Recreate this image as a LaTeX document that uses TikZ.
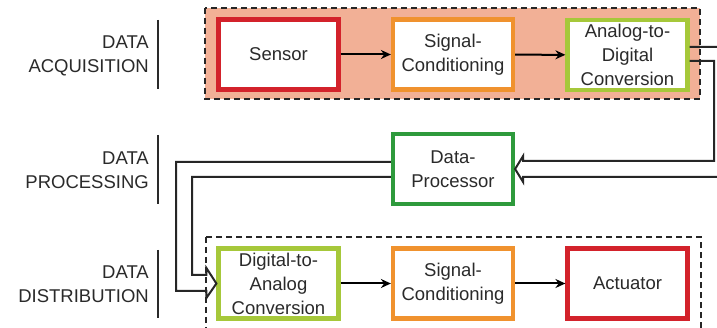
\documentclass[tikz,border=0pt]{standalone}
\usepackage{fontspec}
\setmainfont{Liberation Sans}
\usetikzlibrary{arrows.meta,calc}
\definecolor{peach}{HTML}{F2B096}
\definecolor{bred}{HTML}{D3222B}
\definecolor{borange}{HTML}{F0922E}
\definecolor{blime}{HTML}{A6C83A}
\definecolor{bgreen}{HTML}{2E9A3C}
\definecolor{txt}{HTML}{2A2A2A}
\tikzset{
  blk/.style={draw, line width=4.2pt, fill=white, minimum width=#1, minimum height=70pt,
    align=center, inner sep=0pt, text=txt, font=\fontsize{18.5}{24}\selectfont},
  blk/.default=120pt,
  lbl/.style={anchor=east, align=right, text=txt, inner sep=0pt, font=\fontsize{18.5}{24}\selectfont},
  sep/.style={line width=1.8pt, draw=txt},
  group/.style={dashed, dash pattern=on 6pt off 4pt, line width=2.2pt, draw=black!85},
  conn/.style={line width=2pt, -{Stealth[length=10pt,width=9pt]}},
  pipe/.style={line width=2pt, draw=black!85, line join=miter}
}
\begin{document}
\begin{tikzpicture}[x=1pt,y=-1pt]
\useasboundingbox (0,0) rectangle (717,328);
\clip (0,0) rectangle (717,328);
\fill[white] (0,0) rectangle (717,328);
% group boxes
\path[group, fill=peach] (205,8) rectangle (700,99);
\path[group] (206,237) rectangle (701,345);
% blocks
\node[blk, draw=bred] (sensor) at (278.5,54.5) {Sensor};
\node[blk, draw=borange] (sc1) at (453,54.5) {Signal-\\Conditioning};
\node[blk, draw=blime] (adc) at (627.5,55) {Analog-to-\\Digital\\Conversion};
\node[blk, draw=bgreen] (proc) at (453,169) {Data-\\Processor};
\node[blk, draw=blime] (dac) at (278.5,283.5) {Digital-to-\\Analog\\Conversion};
\node[blk, draw=borange] (sc2) at (453,283.5) {Signal-\\Conditioning};
\node[blk, draw=bred] (act) at (627.5,283.5) {Actuator};
% labels
\node[lbl] (lacq) at (149,56) {DATA\\ACQUISITION};
\node[lbl] (lproc) at (149,170) {DATA\\PROCESSING};
\node[lbl] (ldist) at (149,284) {DATA\\DISTRIBUTION};
\draw[sep] (158,20) -- (158,89);
\draw[sep] (158,135) -- (158,204);
\draw[sep] (158,250) -- (158,318);
% connectors
\draw[conn] (sensor) -- (sc1);
\draw[conn] (sc1) -- (adc);
\draw[conn] (dac) -- (sc2);
\draw[conn] (sc2) -- (act);
% pipe ADC -> Processor
\draw[pipe] ($(adc.east)+(0,-8)$) -- (725,47) -- (725,177)
  -- ($(proc.east)+(8,8)$) -- ($(proc.east)+(8,13)$) -- (proc.east)
  -- ($(proc.east)+(8,-13)$) -- ($(proc.east)+(8,-8)$)
  -- (714,161) -- (714,61) -- ($(adc.east)+(0,6)$);
% pipe Processor -> DAC
\draw[pipe] ($(proc.west)+(0,-7)$) -- (176,162) -- (176,291)
  -- ($(dac.west)+(-10,7.5)$) -- ($(dac.west)+(-10,14.5)$) -- (dac.west)
  -- ($(dac.west)+(-10,-15.5)$) -- ($(dac.west)+(-10,-8.5)$)
  -- (192,275) -- (192,177) -- ($(proc.west)+(0,8)$);
\end{tikzpicture}
\end{document}
